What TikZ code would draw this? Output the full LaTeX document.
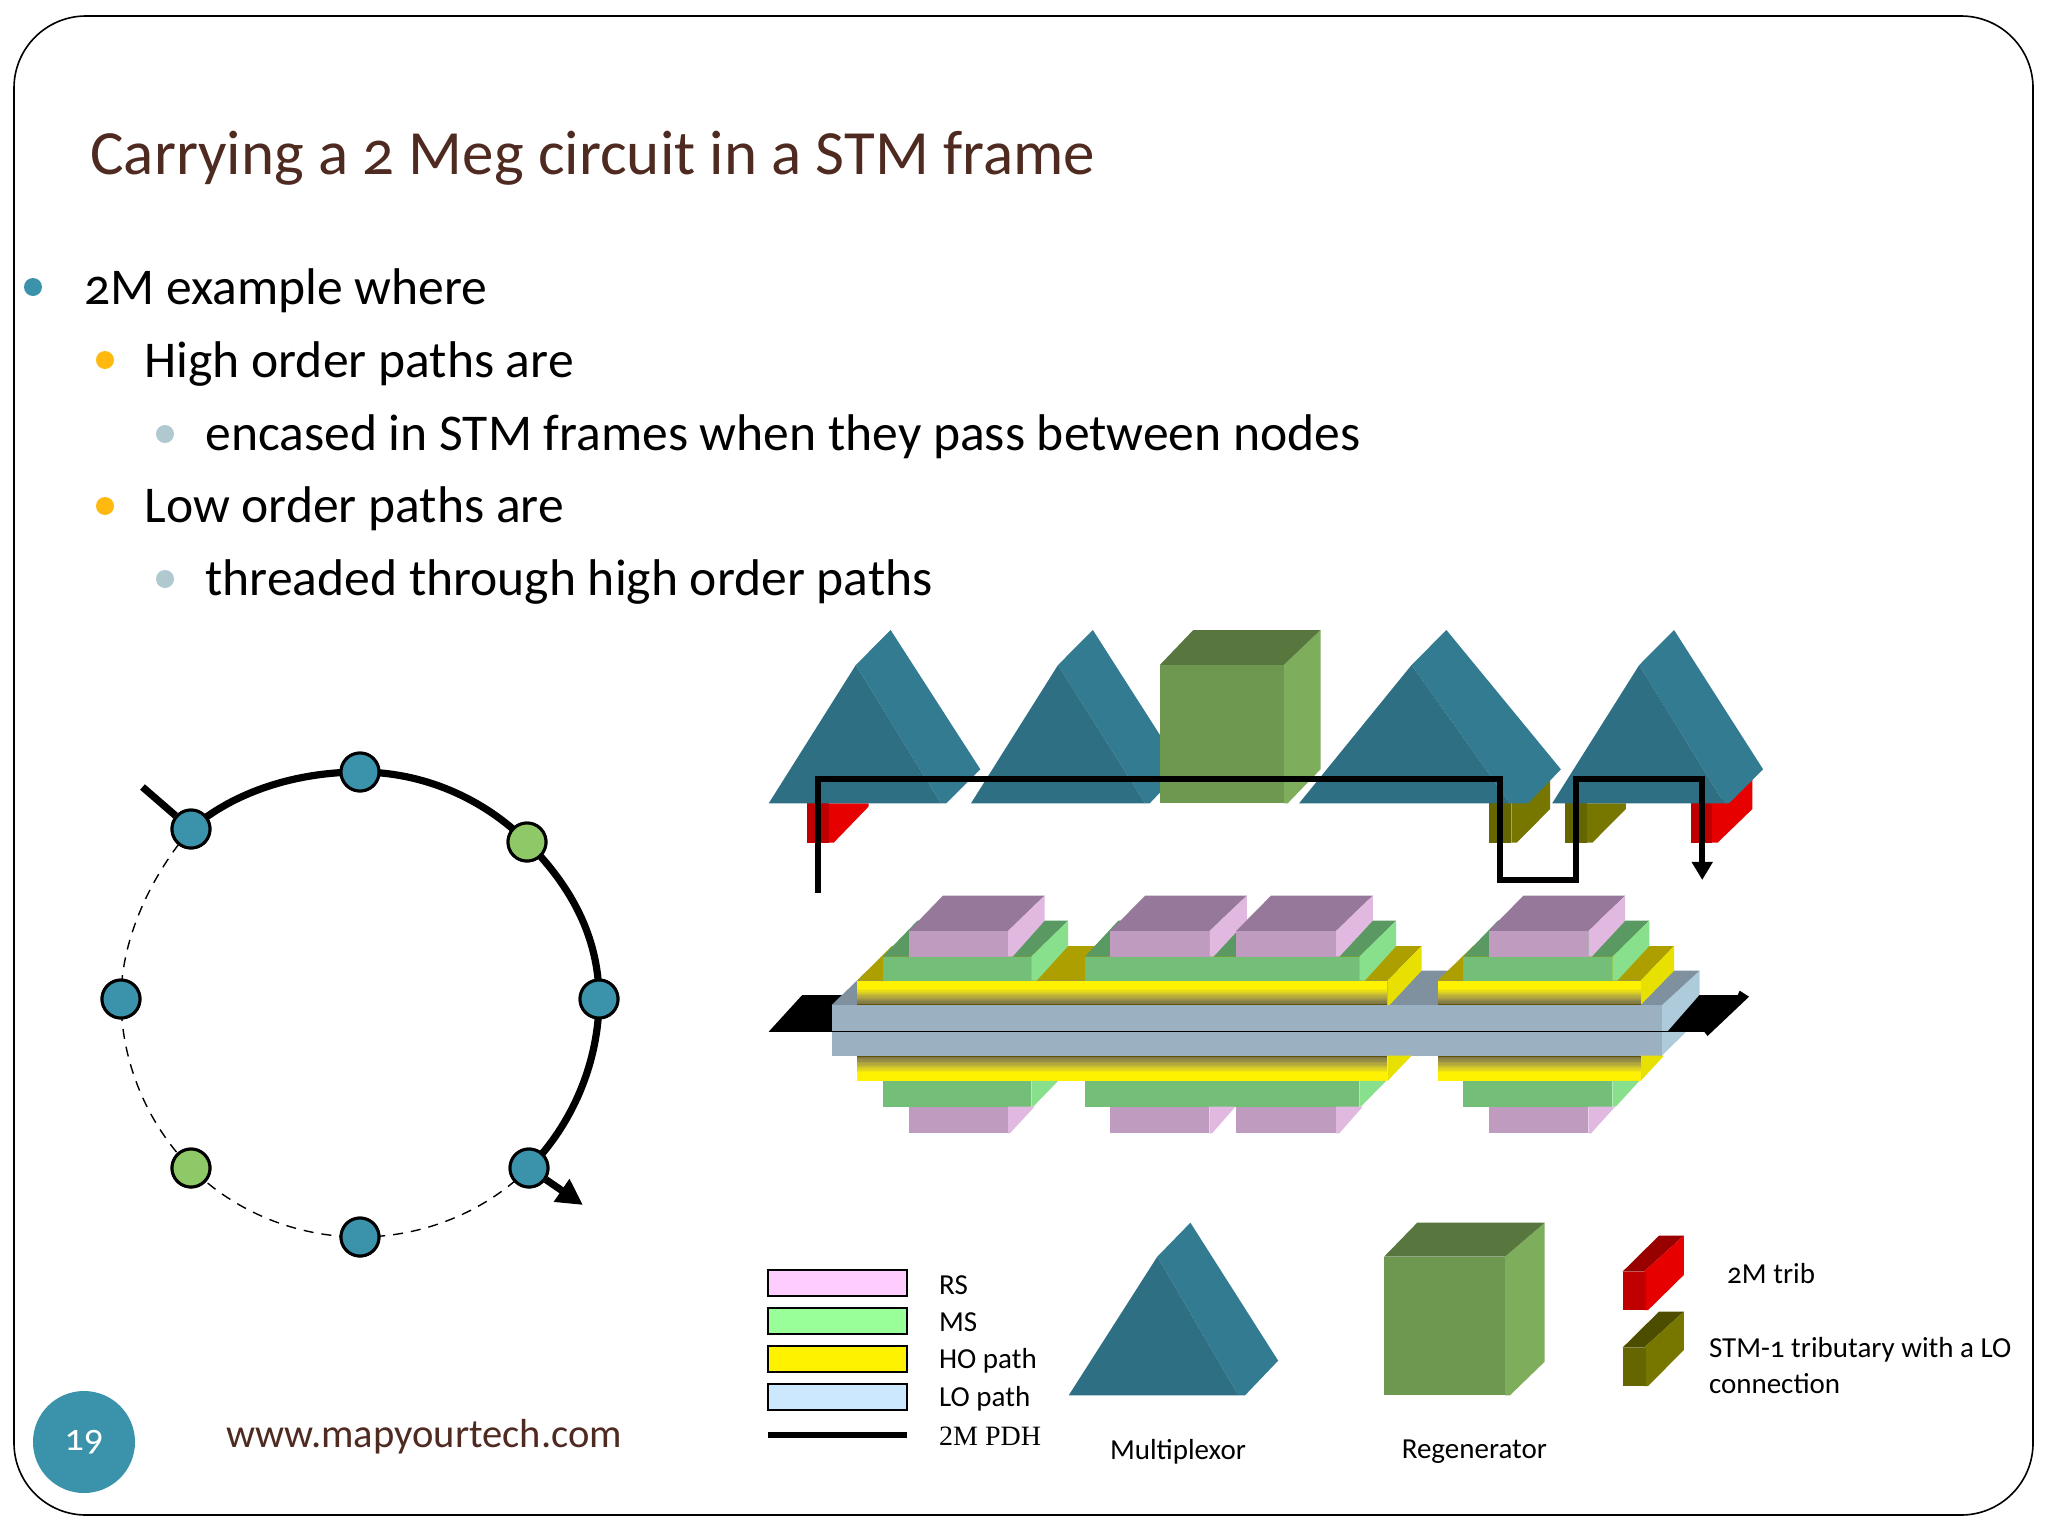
\documentclass[tikz,border=0pt]{standalone}
\usepackage{fontspec}
\usetikzlibrary{arrows.meta}
\setmainfont{Carlito}[Numbers=OldStyle]
\newfontfamily\serifL{Liberation Serif}
\definecolor{titlebrown}{HTML}{4E2A20}
\definecolor{teal1}{HTML}{3A93AB}
\definecolor{greenN}{HTML}{8FC866}
\definecolor{amberB}{HTML}{FFB90F}
\definecolor{greyB}{HTML}{B0C9D0}
\definecolor{pyrF}{HTML}{2E6F84}
\definecolor{pyrS}{HTML}{337B91}
\definecolor{boxF}{HTML}{6E984F}
\definecolor{boxT}{HTML}{57773F}
\definecolor{boxS}{HTML}{7EAE5C}
\definecolor{grayF}{HTML}{9BB0C0}
\definecolor{grayT}{HTML}{7F919F}
\definecolor{grayS}{HTML}{AECBDC}
\definecolor{yelT}{HTML}{AD9F00}
\definecolor{yelS}{HTML}{E8E000}
\definecolor{yelD}{HTML}{605400}
\definecolor{grnF}{HTML}{74BF77}
\definecolor{grnT}{HTML}{5A9A62}
\definecolor{grnS}{HTML}{88E08C}
\definecolor{pnkF}{HTML}{BF9BBF}
\definecolor{pnkT}{HTML}{95789A}
\definecolor{pnkS}{HTML}{E0B8E0}
\definecolor{redF}{HTML}{C00000}
\definecolor{redT}{HTML}{990000}
\definecolor{redS}{HTML}{E60000}
\definecolor{olvF}{HTML}{666600}
\definecolor{olvT}{HTML}{4D4D00}
\definecolor{olvS}{HTML}{777700}
\definecolor{legRS}{HTML}{FFCCFF}
\definecolor{legMS}{HTML}{99FF99}
\definecolor{legLO}{HTML}{CCE8FF}
% yellow band: x0, x1, y of bright edge, y of dark edge
\newcommand{\yelband}[4]{%
  \fill[yellow] (#1,#3) rectangle (#2,#4);
  \foreach \k in {0,...,13}{
    \pgfmathsetmacro{\ya}{#3+(#4-#3)*(.3+.7*\k/14)}
    \pgfmathsetmacro{\yb}{#3+(#4-#3)*(.3+.7*(\k+1)/14)}
    \pgfmathtruncatemacro{\pc}{100-\k*100/13}
    \fill[yellow!\pc!yelD] (#1,\ya) rectangle (#2,\yb);
  }}
\tikzset{
  slidetext/.style={anchor=base west,inner sep=0pt,font=\fontsize{25.8}{26}\selectfont,text=black},
  ringnode/.style={circle,draw=black,line width=1.5pt,minimum size=19pt,inner sep=0pt,fill=teal1},
  ringgreen/.style={ringnode,fill=greenN},
  thickpath/.style={line width=3.6pt,black},
  thinpath/.style={line width=.7pt,black,dash pattern=on 5pt off 4pt},
  legendbox/.style={draw=black,line width=1.1pt},
  smalllabel/.style={anchor=west,inner sep=0pt,font=\fontsize{14.5}{15}\selectfont,text=black},
  zoomA/.style={shift={(750,610)},xscale=.6696,yscale=.3333},
  zoomB/.style={shift={(750,880)},xscale=.6696,yscale=.3333},
  zoomC/.style={shift={(750,1200)},xscale=.8278,yscale=.3333}
}
\begin{document}
\begin{tikzpicture}[x=.5pt,y=-.5pt]
\useasboundingbox (0,0) rectangle (2048,1536);
\fill[white] (0,0) rectangle (2048,1536);
\draw[black,line width=.8pt,rounded corners=36pt] (14,16) rectangle (2033,1515);

% title and bullets
\node[anchor=base west,inner sep=0pt,text=titlebrown,font=\fontsize{31.5}{32}\selectfont] (title) at (90,174) {Carrying a 2 Meg circuit in a STM frame};
\fill[teal1] (33,287) circle (9);
\node[slidetext] (b1) at (84,304) {2M example where};
\fill[amberB] (105,360) circle (9);
\node[slidetext] (b2) at (144,377) {High order paths are};
\fill[greyB] (165,434) circle (9);
\node[slidetext] (b3) at (205,450) {encased in STM frames when they pass between nodes};
\fill[amberB] (105,506) circle (9);
\node[slidetext] (b4) at (144,522) {Low order paths are};
\fill[greyB] (165,579) circle (9);
\node[slidetext] (b5) at (205,595) {threaded through high order paths};

% footer
\node[circle,fill=teal1,minimum size=51pt,inner sep=0pt,text=white,font=\fontsize{19}{19}\selectfont] (pg) at (84,1442) {\raisebox{-8pt}{19}};
\node[anchor=base west,inner sep=0pt,text=titlebrown,font=\fontsize{20.3}{21}\selectfont] (www) at (226,1447) {www.mapyourtech.com};

% ring
\node[ringnode] (top) at (360,772) {};
\node[ringnode] (right) at (599,999) {};
\node[ringnode] (bot) at (360,1237) {};
\node[ringnode] (left) at (121,999) {};
\node[ringnode] (tl) at (191,829) {};
\node[ringgreen] (tr) at (527,842) {};
\node[ringgreen] (bl) at (191,1168) {};
\node[ringnode] (br) at (529,1168) {};
\coordinate (inn) at (142.5,787);
\coordinate (outt) at (583,1205);
\draw[thickpath] (inn) -- (tl);
\draw[thickpath] (tl.center) .. controls +(44,-38) and +(-63,0) .. (top.center)
  .. controls +(63,0) and +(-44,-44) .. (tr.center)
  .. controls +(44,44) and +(0,-62) .. (right.center)
  .. controls +(0,62) and +(44,-44) .. (br.center);
\draw[thickpath,-{Triangle[length=13pt,width=13pt]}] (br) -- (outt);
\draw[thinpath] (br.center) .. controls +(-44,44) and +(63,0) .. (bot.center)
  .. controls +(-63,0) and +(44,44) .. (bl.center)
  .. controls +(-44,-44) and +(0,62) .. (left.center)
  .. controls +(0,-62) and +(-38,44) .. (tl.center);
\foreach \n/\c in {top/ringnode,right/ringnode,bot/ringnode,left/ringnode,tl/ringnode,tr/ringgreen,bl/ringgreen,br/ringnode}
  \node[\c] at (\n) {};

% top row
\begin{scope}[zoomA]
  % tributaries
  \fill[redS] (118,580) -- (177,580) -- (177,590) -- (125,698) -- (118,698) -- cycle;
  \fill[redF] (85,580) rectangle (118,698);
  \fill[olvS] (1137,580) -- (1195,510) -- (1195,597) -- (1145,698) -- (1137,698) -- cycle;
  \fill[olvF] (1103,580) rectangle (1137,698);
  \fill[olvS] (1250,580) -- (1308,580) -- (1308,597) -- (1258,698) -- (1250,698) -- cycle;
  \fill[olvF] (1217,580) rectangle (1250,698);
  \fill[redS] (1437,580) -- (1497,510) -- (1497,597) -- (1445,698) -- (1437,698) -- cycle;
  \fill[redF] (1405,580) rectangle (1437,698);
  % multiplexors
  \fill[pyrS] (158,165) -- (210,60) -- (344,478) -- (293,580) -- (285,580) -- cycle;
  \fill[pyrF] (28,580) -- (158,165) -- (285,580) -- cycle;
  \fill[pyrS] (460,165) -- (512,60) -- (645,478) -- (597,580) -- (590,580) -- cycle;
  \fill[pyrF] (330,580) -- (460,165) -- (590,580) -- cycle;
  \fill[pyrS] (988,165) -- (1040,60) -- (1211,478) -- (1162,580) -- (1135,580) -- cycle;
  \fill[pyrF] (820,580) -- (988,165) -- (1135,580) -- cycle;
  \fill[pyrS] (1328,165) -- (1380,60) -- (1513,478) -- (1462,580) -- (1455,580) -- cycle;
  \fill[pyrF] (1198,580) -- (1328,165) -- (1455,580) -- cycle;
  % regenerator
  \fill[boxS] (797,165) -- (852,60) -- (852,478) -- (803,580) -- (797,580) -- cycle;
  \fill[boxT] (612,165) -- (662,60) -- (852,60) -- (797,165) -- cycle;
  \fill[boxF] (612,165) rectangle (797,580);
  % 2M PDH route
  \coordinate (pa) at (102,848);
  \coordinate (pb) at (102,508);
  \coordinate (pc) at (1120,508);
  \coordinate (pd) at (1120,810);
  \coordinate (pe) at (1233,810);
  \coordinate (pf) at (1233,508);
  \coordinate (pg2) at (1422,508);
  \coordinate (ph) at (1422,810);
  \draw[black,line width=3pt,line join=miter,-{Triangle[length=9pt,width=10pt]}] (pa) -- (pb) -- (pc) -- (pd) -- (pe) -- (pf) -- (pg2) -- (ph);
\end{scope}

% layered path stack
\begin{scope}[zoomB]
  % black signal
  \fill[black] (28,455) -- (78,345) -- (145,345) -- (145,455) -- cycle;
  % slab
  \fill[grayS] (1362,455) -- (1398,455) -- (1362,527) -- cycle;
  \fill[grayS] (1362,375) -- (1418,272) -- (1418,345) -- (1370,455) -- (1362,455) -- cycle;
  \fill[black] (1370,455) -- (1418,345) -- (1475,345) -- (1478,332) -- (1492,350) -- (1430,468) -- (1425,455) -- cycle;
  \fill[grayT] (122,375) -- (175,272) -- (1418,272) -- (1362,375) -- cycle;
  \fill[grayF] (122,375) rectangle (1362,527);
  \draw[black,line width=.7pt] (28,455) -- (1430,455);
  % lower layers
  \fill[yelS] (952,527) -- (988,527) -- (952,603) -- cycle;
  \yelband{160}{952}{603}{527}
  \fill[yelS] (1330,527) -- (1365,527) -- (1330,603) -- cycle;
  \yelband{1027}{1330}{603}{527}
  \fill[grnS] (420,603) -- (460,603) -- (423,680) -- (420,680) -- cycle;
  \fill[grnF] (198,603) rectangle (420,680);
  \fill[grnS] (910,603) -- (950,603) -- (912,680) -- (910,680) -- cycle;
  \fill[grnF] (500,603) rectangle (910,680);
  \fill[grnS] (1288,603) -- (1328,603) -- (1293,680) -- (1288,680) -- cycle;
  \fill[grnF] (1065,603) rectangle (1288,680);
  \fill[pnkS] (385,680) -- (425,680) -- (388,760) -- (385,760) -- cycle;
  \fill[pnkF] (237,680) rectangle (385,760);
  \fill[pnkS] (686,680) -- (725,680) -- (690,760) -- (686,760) -- cycle;
  \fill[pnkF] (538,680) rectangle (686,760);
  \fill[pnkS] (875,680) -- (915,680) -- (880,760) -- (875,760) -- cycle;
  \fill[pnkF] (726,680) rectangle (875,760);
  \fill[pnkS] (1252,680) -- (1292,680) -- (1256,760) -- (1252,760) -- cycle;
  \fill[pnkF] (1103,680) rectangle (1252,760);
  % upper yellow
  \fill[yelT] (160,302) -- (212,198) -- (1003,198) -- (952,302) -- cycle;
  \fill[yelS] (952,302) -- (1003,198) -- (1003,272) -- (955,375) -- (952,375) -- cycle;
  \yelband{160}{952}{302}{375}
  \fill[yelT] (1027,302) -- (1080,198) -- (1380,198) -- (1330,302) -- cycle;
  \fill[yelS] (1330,302) -- (1380,198) -- (1380,272) -- (1330,375) -- cycle;
  \yelband{1027}{1330}{302}{375}
  % upper green
  \fill[grnT] (198,230) -- (250,122) -- (475,122) -- (420,230) -- cycle;
  \fill[grnS] (420,230) -- (475,122) -- (475,198) -- (428,302) -- (420,302) -- cycle;
  \fill[grnF] (198,230) rectangle (420,302);
  \fill[grnT] (500,230) -- (550,122) -- (965,122) -- (910,230) -- cycle;
  \fill[grnS] (910,230) -- (965,122) -- (965,198) -- (918,302) -- (910,302) -- cycle;
  \fill[grnF] (500,230) rectangle (910,302);
  \fill[grnT] (1065,230) -- (1117,122) -- (1343,122) -- (1288,230) -- cycle;
  \fill[grnS] (1288,230) -- (1343,122) -- (1343,198) -- (1295,302) -- (1288,302) -- cycle;
  \fill[grnF] (1065,230) rectangle (1288,302);
  % upper pink
  \fill[pnkT] (237,153) -- (288,47) -- (440,47) -- (385,153) -- cycle;
  \fill[pnkS] (385,153) -- (440,47) -- (440,122) -- (392,230) -- (385,230) -- cycle;
  \fill[pnkF] (237,153) rectangle (385,230);
  \fill[pnkT] (538,153) -- (590,47) -- (742,47) -- (686,153) -- cycle;
  \fill[pnkS] (686,153) -- (742,47) -- (742,122) -- (692,230) -- (686,230) -- cycle;
  \fill[pnkF] (538,153) rectangle (686,230);
  \fill[pnkT] (726,153) -- (778,47) -- (930,47) -- (875,153) -- cycle;
  \fill[pnkS] (875,153) -- (930,47) -- (930,122) -- (880,230) -- (875,230) -- cycle;
  \fill[pnkF] (726,153) rectangle (875,230);
  \fill[pnkT] (1103,153) -- (1155,47) -- (1307,47) -- (1252,153) -- cycle;
  \fill[pnkS] (1252,153) -- (1307,47) -- (1307,122) -- (1257,230) -- (1252,230) -- cycle;
  \fill[pnkF] (1103,153) rectangle (1252,230);
\end{scope}

% legend
\begin{scope}[zoomC]
  \draw[legendbox,fill=legRS] (22,210) rectangle (190,288);
  \draw[legendbox,fill=legMS] (22,323) rectangle (190,402);
  \draw[legendbox,fill=yellow] (22,437) rectangle (190,516);
  \draw[legendbox,fill=legLO] (22,551) rectangle (190,630);
  \coordinate (la) at (22,705);
  \coordinate (lb) at (190,705);
  \draw[black,line width=3pt] (la) -- (lb);
  \node[smalllabel] (lrs) at (228,255) {RS};
  \node[smalllabel] (lms) at (228,368) {MS};
  \node[smalllabel] (lho) at (228,483) {HO path};
  \node[smalllabel] (llo) at (228,597) {LO path};
  \node[smalllabel,font=\fontsize{14}{14}\selectfont\serifL] (lpdh) at (228,710) {2M PDH};
  \fill[pyrS] (492,170) -- (532,68) -- (638,482) -- (598,586) -- (590,586) -- cycle;
  \fill[pyrF] (385,586) -- (492,170) -- (590,586) -- cycle;
  \fill[boxS] (912,170) -- (960,68) -- (960,485) -- (918,586) -- (912,586) -- cycle;
  \fill[boxT] (766,170) -- (806,68) -- (960,68) -- (912,170) -- cycle;
  \fill[boxF] (766,170) rectangle (912,586);
  \node[smalllabel,anchor=center] (lmux) at (517,755) {Multiplexor};
  \node[smalllabel,anchor=center] (lreg) at (875,755) {Regenerator};
  \fill[redT] (1054,215) -- (1098,107) -- (1128,107) -- (1080,215) -- cycle;
  \fill[redS] (1080,215) -- (1128,107) -- (1128,225) -- (1085,330) -- (1080,330) -- cycle;
  \fill[redF] (1054,215) rectangle (1082,330);
  \fill[olvT] (1054,443) -- (1098,335) -- (1128,335) -- (1080,443) -- cycle;
  \fill[olvS] (1080,443) -- (1128,335) -- (1128,450) -- (1085,558) -- (1080,558) -- cycle;
  \fill[olvF] (1054,443) rectangle (1082,558);
  \node[smalllabel] (ltrib) at (1180,222) {2M trib};
  \node[smalllabel] (lstm) at (1158,450) {STM-1 tributary with a LO};
  \node[smalllabel] (lconn) at (1158,552) {connection};
\end{scope}
\end{tikzpicture}
\end{document}
